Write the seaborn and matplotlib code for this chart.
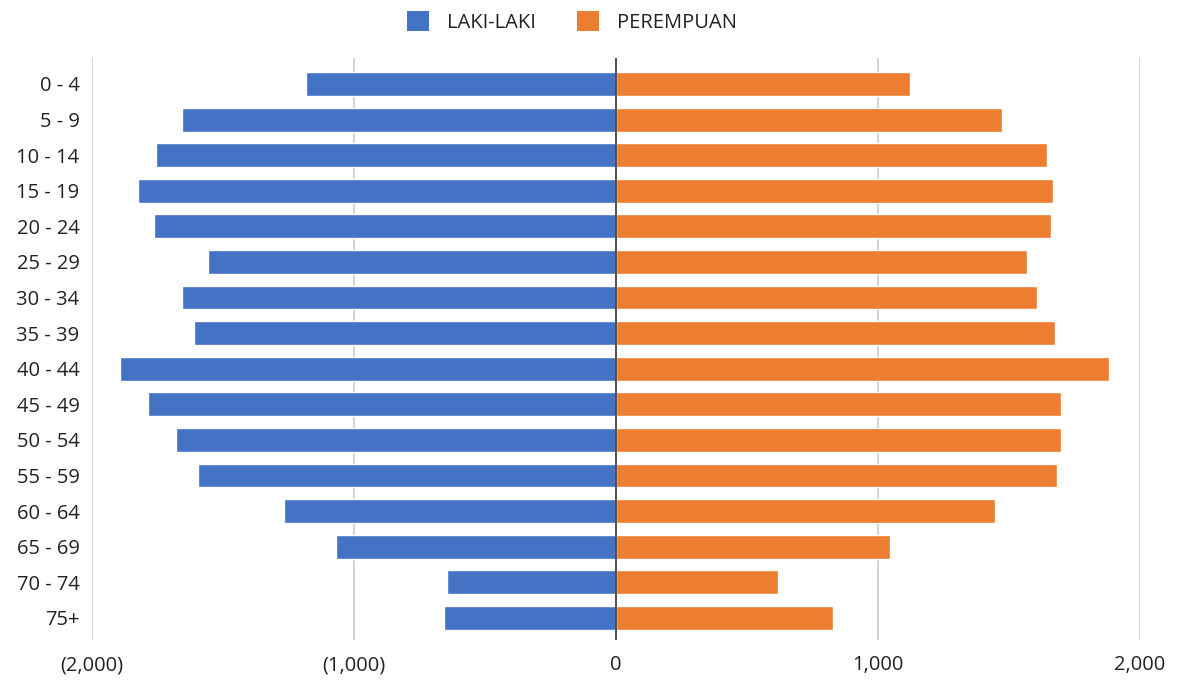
import matplotlib
matplotlib.use("Agg")
import matplotlib.pyplot as plt
from matplotlib.ticker import FuncFormatter
from matplotlib.patches import Patch
import seaborn as sns
import pandas as pd

age_groups = ["0 - 4", "5 - 9", "10 - 14", "15 - 19", "20 - 24", "25 - 29",
              "30 - 34", "35 - 39", "40 - 44", "45 - 49", "50 - 54", "55 - 59",
              "60 - 64", "65 - 69", "70 - 74", "75+"]
laki_laki = [1182, 1657, 1756, 1825, 1764, 1557, 1657, 1611, 1894, 1787,
             1680, 1595, 1267, 1068, 644, 657]
perempuan = [1122, 1475, 1644, 1667, 1659, 1567, 1605, 1674, 1882, 1699,
             1699, 1683, 1445, 1046, 619, 827]
series_names = ["LAKI-LAKI", "PEREMPUAN"]
x_ticks = [-2000, -1000, 0, 1000, 2000]

blue = "#4472C4"
orange = "#ED7D31"

df = pd.DataFrame({
    "usia": age_groups * 2,
    "jumlah": [-v for v in laki_laki] + perempuan,
    "jenis": [series_names[0]] * len(age_groups) + [series_names[1]] * len(age_groups),
})

sns.set_theme(style="white")
plt.rcParams["font.family"] = ["Open Sans", "DejaVu Sans"]

fig = plt.figure(figsize=(11.83, 6.8), dpi=100)
ax = fig.add_axes([92 / 1183, 1 - 640 / 680, (1140 - 92) / 1183, (640 - 58) / 680])

sns.barplot(data=df, x="jumlah", y="usia", hue="jenis", order=age_groups,
            hue_order=series_names, palette=[blue, orange], saturation=1,
            dodge=False, orient="h", width=0.67, ax=ax, legend=False, zorder=3)

ax.set_xlim(-2000, 2000)
ax.set_ylim(15.62, -0.73)
ax.set_xticks(x_ticks)


def fmt(v, _):
    if v < 0:
        return f"({abs(v):,.0f})"
    return f"{v:,.0f}"


ax.xaxis.set_major_formatter(FuncFormatter(fmt))
ax.grid(axis="x", color="#CCCCCC", linewidth=1.2, zorder=0)
ax.grid(axis="y", visible=False)
ax.axvline(0, color="#444444", linewidth=1.3, zorder=4)
for s in ax.spines.values():
    s.set_visible(False)
ax.tick_params(axis="both", length=0, labelsize=14.5, colors="#222222")
ax.tick_params(axis="x", pad=11)
ax.tick_params(axis="y", pad=9)
ax.set_xlabel("")
ax.set_ylabel("")

handles = [Patch(facecolor=blue, edgecolor="none"), Patch(facecolor=orange, edgecolor="none")]
fig.legend(handles, series_names, loc="center", bbox_to_anchor=(0.4835, 1 - 22 / 680),
           ncol=2, frameon=False, fontsize=14.5, handlelength=1.1, handleheight=1.1,
           columnspacing=2.0, handletextpad=0.9, labelcolor="#222222")

fig.savefig("out.png", dpi=100)
